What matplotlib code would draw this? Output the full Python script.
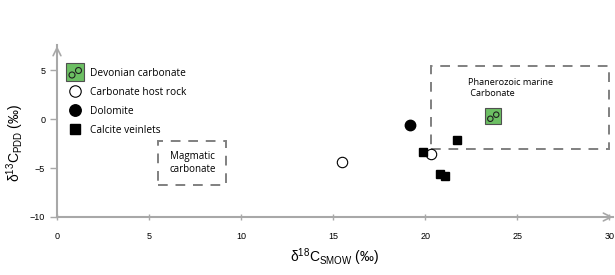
import numpy as np
import matplotlib
matplotlib.use("Agg")
import matplotlib.pyplot as plt
from matplotlib.path import Path
from matplotlib.patches import Rectangle

# data
devonian_x = [23.7]
devonian_y = [0.3]
host_x = [15.5, 20.3]
host_y = [-4.4, -3.6]
dolomite_x = [19.2]
dolomite_y = [-0.6]
calcite_x = [19.9, 21.7, 20.8, 21.1]
calcite_y = [-3.4, -2.1, -5.6, -5.8]

# dashed fields (x0, y0, x1, y1)
marine_box = (20.3, -3.0, 30.0, 5.4)
magmatic_box = (5.5, -6.7, 9.2, -2.2)

xticks = [0, 5, 10, 15, 20, 25, 30]
yticks = [-10, -5, 0, 5]

grey = "#a8a8a8"
green = "#6cbf63"

# two small rings drawn inside the green square
rings = Path.make_compound_path(Path.circle((-0.35, -0.25), 0.3),
                                Path.circle((0.3, 0.2), 0.3))

fig = plt.figure(figsize=(6.15, 2.75), dpi=100)
ax = fig.add_axes([57 / 615, 58 / 275, 556 / 615, 172 / 275])
ax.set_xlim(0, 30.2)
ax.set_ylim(-10, 7.6)

for s in ["top", "right"]:
    ax.spines[s].set_visible(False)
for s in ["left", "bottom"]:
    ax.spines[s].set_color(grey)
    ax.spines[s].set_linewidth(1.5)

# arrow heads
ax.annotate("", xy=(1.005, 0), xytext=(0.97, 0), xycoords="axes fraction",
            arrowprops=dict(arrowstyle="->", color=grey, lw=1.2,
                            mutation_scale=14))
ax.annotate("", xy=(0, 1.01), xytext=(0, 0.95), xycoords="axes fraction",
            arrowprops=dict(arrowstyle="->", color=grey, lw=1.2,
                            mutation_scale=14))

ax.set_xticks(xticks)
ax.set_yticks(yticks)
ax.tick_params(axis="both", colors=grey, length=5, width=1, labelsize=6.5,
               labelcolor="black")
ax.tick_params(axis="x", direction="inout", pad=8)
for lab in ax.get_xticklabels() + ax.get_yticklabels():
    lab.set_family("Liberation Sans")

# dashed fields
for (x0, y0, x1, y1) in [marine_box, magmatic_box]:
    ax.add_patch(Rectangle((x0, y0), x1 - x0, y1 - y0, fill=False,
                           edgecolor="#808080", lw=1.4, ls=(0, (5, 4))))

ax.text(22.35, 3.2, "Phanerozoic marine\n Carbonate", fontsize=6.6,
        family="Open Sans", ha="left", va="center", linespacing=1.4)
ax.text(7.35, -4.45, "Magmatic\ncarbonate", fontsize=7,
        family="Open Sans", ha="center", va="center", linespacing=1.3)

# points
h_dev_sq, = ax.plot(devonian_x, devonian_y, ls="none", marker="s",
                    ms=12, mfc=green, mec="#505050", mew=0.8)
h_dev_rg, = ax.plot(devonian_x, devonian_y, ls="none", marker=rings,
                    ms=8.5, mfc="none", mec="#202020", mew=0.8)
h_host, = ax.plot(host_x, host_y, ls="none", marker="o", ms=7.5,
                  mfc="white", mec="black", mew=0.8)
h_dol, = ax.plot(dolomite_x, dolomite_y, ls="none", marker="o", ms=7.5,
                 mfc="black", mec="black")
h_cal, = ax.plot(calcite_x, calcite_y, ls="none", marker="s", ms=6,
                 mfc="black", mec="black")

ax.legend([(h_dev_sq, h_dev_rg), h_host, h_dol, h_cal],
          ["Devonian carbonate", "Carbonate host rock", "Dolomite",
           "Calcite veinlets"],
          loc="upper left", bbox_to_anchor=(0.014, 0.89), frameon=False,
          prop={"family": "Open Sans", "size": 7.3}, handlelength=1.2,
          handletextpad=0.9, labelspacing=0.78, borderaxespad=0,
          markerscale=1.1)

ax.set_xlabel(r"$\mathregular{\delta^{18}C_{SMOW}}$ (‰)", fontsize=10,
              family="Liberation Sans", labelpad=4)
ax.set_ylabel(r"$\mathregular{\delta^{13}C_{PDD}}$ (‰)", fontsize=10,
              family="Liberation Sans")
ax.yaxis.set_label_coords(-0.055, 0.43)

fig.savefig("out.png", dpi=100)
